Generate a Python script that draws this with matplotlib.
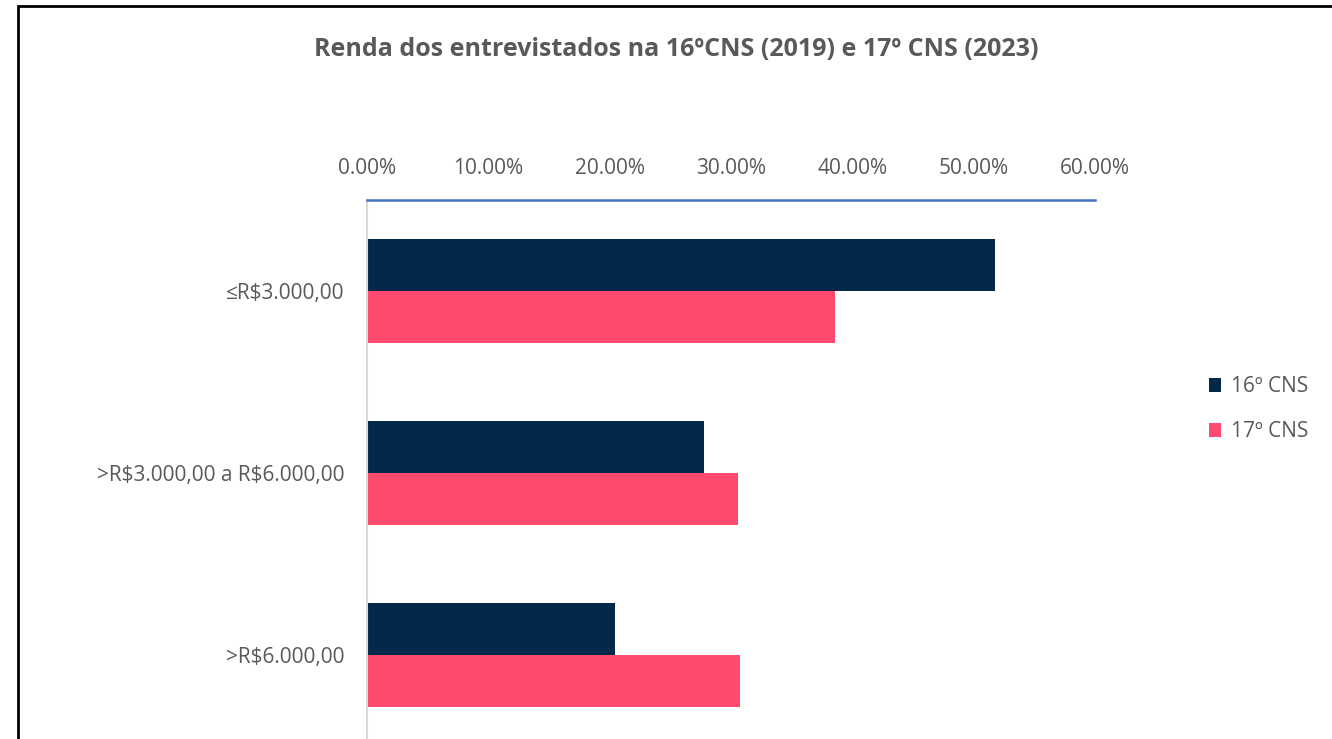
import matplotlib.pyplot as plt
import numpy as np
from matplotlib.patches import Rectangle

plt.rcParams['font.family'] = ['Open Sans', 'DejaVu Sans']
plt.rcParams['text.parse_math'] = False

categorias = ['≤R$3.000,00', '>R$3.000,00 a R$6.000,00', '>R$6.000,00']
cns16 = [51.76, 27.78, 20.44]
cns17 = [38.57, 30.58, 30.74]
ticks = [0, 10, 20, 30, 40, 50, 60]

cinza = '#595959'
azul_escuro = '#03284A'
rosa = '#FE4A6E'

fig = plt.figure(figsize=(13.32, 7.39), dpi=100)
ax = fig.add_axes([0.2755, -0.0095, 0.5465, 0.7389])

y = np.arange(len(categorias))
h = 0.286
ax.barh(y - h/2, cns16, height=h, color=azul_escuro, label='16º CNS')
ax.barh(y + h/2, cns17, height=h, color=rosa, label='17º CNS')

ax.set_ylim(len(categorias) - 0.5, -0.5)
ax.set_xlim(0, 60)
ax.set_yticks(y)
ax.set_yticklabels(categorias, fontsize=15, color=cinza)
ax.set_xticks(ticks)
ax.set_xticklabels(['%.2f%%' % t for t in ticks], fontsize=15, color=cinza)
ax.xaxis.tick_top()
ax.tick_params(axis='both', length=0)
ax.tick_params(axis='x', pad=15)
ax.tick_params(axis='y', pad=16.5)

for s in ['right', 'bottom']:
    ax.spines[s].set_visible(False)
ax.spines['top'].set_color('#4472C4')
ax.spines['top'].set_linewidth(1.8)
ax.spines['left'].set_color('#D9D9D9')
ax.spines['left'].set_linewidth(1.5)

fig.text(0.508, 0.933, 'Renda dos entrevistados na 16ºCNS (2019) e 17º CNS (2023)',
         ha='center', va='center', fontsize=18, fontweight='bold', color=cinza)

leg = fig.legend(loc='center left', bbox_to_anchor=(0.8935, 0.446), frameon=False,
                 fontsize=15, labelcolor=cinza, handlelength=0.6, handleheight=0.6,
                 handletextpad=0.45, labelspacing=1.15)

borda = Rectangle((18/1332, -0.1), 1.2, 1 - 6/739 + 0.1, transform=fig.transFigure,
                  fill=False, edgecolor='black', linewidth=2, clip_on=False)
fig.patches.append(borda)

fig.savefig('out.png', dpi=100)
